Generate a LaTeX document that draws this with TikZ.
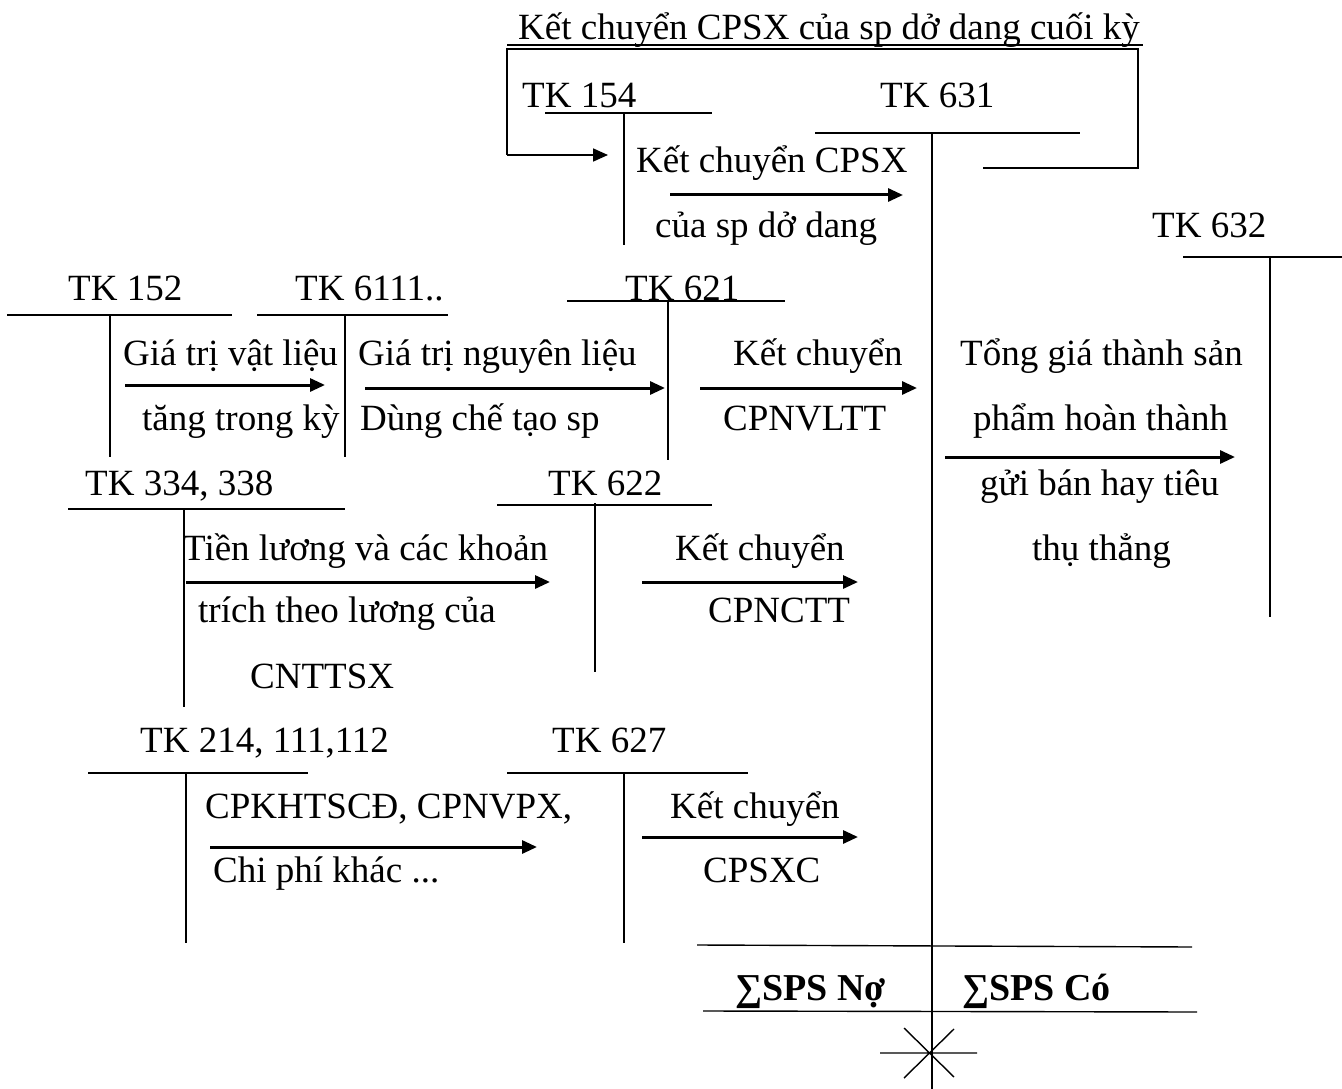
\documentclass[tikz,border=0pt]{standalone}
\usepackage{fontspec}
\setmainfont{Liberation Serif}
\usetikzlibrary{arrows.meta}
\begin{document}
\begin{tikzpicture}[x=1pt,y=-1pt,
  txt/.style={anchor=base west,inner sep=0pt,font=\fontsize{37}{43}\selectfont},
  btxt/.style={txt,font=\fontsize{38}{43}\selectfont\bfseries},
  acct/.style={line width=1.4pt},
  flow/.style={line width=3pt,-{Triangle[length=15pt,width=13pt]}},
  frame/.style={line width=1.8pt}]
\useasboundingbox (0,0) rectangle (1342,1089);
\fill[white] (0,0) rectangle (1342,1089);

% texts
\node[txt] (top) at (518,40) {Kết chuyển CPSX của sp dở dang cuối kỳ};
\node[txt] (t154) at (522,108) {TK 154};
\node[txt] (t631) at (880,108) {TK 631};
\node[txt] (a1u) at (636,172) {Kết chuyển CPSX};
\node[txt] (a1d) at (655,237) {của sp dở dang};
\node[txt] (t632) at (1152,237) {TK 632};
\node[txt] (t152) at (68,300) {TK 152};
\node[txt] (t6111) at (295,300) {TK 6111..};
\node[txt] (t621) at (625,300) {TK 621};
\node[txt] (a2u) at (123,365) {Giá trị vật liệu};
\node[txt] (a2d) at (142,430) {tăng trong kỳ};
\node[txt] (a3u) at (358,365) {Giá trị nguyên liệu};
\node[txt] (a3d) at (360,430) {Dùng chế tạo sp};
\node[txt] (a4u) at (733,365) {Kết chuyển};
\node[txt] (a4d) at (723,430) {CPNVLTT};
\node[txt] (a5u1) at (960,365) {Tổng giá thành sản};
\node[txt] (a5u2) at (973,430) {phẩm hoàn thành};
\node[txt] (a5d1) at (980,495) {gửi bán hay tiêu};
\node[txt] (a5d2) at (1032,560) {thụ thẳng};
\node[txt] (t334) at (85,495) {TK 334, 338};
\node[txt] (t622) at (548,495) {TK 622};
\node[txt] (a6u) at (183,560) {Tiền lương và các khoản};
\node[txt] (a6d1) at (198,622) {trích theo lương của};
\node[txt] (a6d2) at (250,688) {CNTTSX};
\node[txt] (a7u) at (675,560) {Kết chuyển};
\node[txt] (a7d) at (708,622) {CPNCTT};
\node[txt] (t214) at (140,752) {TK 214, 111,112};
\node[txt] (t627) at (552,752) {TK 627};
\node[txt] (a8u) at (205,818) {CPKHTSCĐ, CPNVPX,};
\node[txt] (a8d) at (213,882) {Chi phí khác ...};
\node[txt] (a9u) at (670,818) {Kết chuyển};
\node[txt] (a9d) at (703,882) {CPSXC};
\node[btxt] (sno) at (735,1000) {∑SPS Nợ};
\node[btxt] (sco) at (962,1000) {∑SPS Có};

% T accounts
\draw[acct] (545,113) -- (712,113) (624,113) -- (624,245);
\draw[acct] (815,133) -- (1080,133) (932,133) -- (932,1089);
\draw[acct] (1183,257) -- (1342,257) (1270,257) -- (1270,617);
\draw[acct] (7,315) -- (232,315) (110,315) -- (110,457);
\draw[acct] (257,315) -- (448,315) (345,315) -- (345,457);
\draw[acct] (567,301) -- (785,301) (668,301) -- (668,460);
\draw[acct] (68,509) -- (345,509) (184,509) -- (184,707);
\draw[acct] (497,505) -- (712,505) (595,503) -- (595,672);
\draw[acct] (88,773) -- (308,773) (186,773) -- (186,943);
\draw[acct] (507,773) -- (748,773) (624,773) -- (624,943);
\draw[acct] (697,945) -- (1192,947);
\draw[acct] (703,1011) -- (1197,1012);
% closing cross
\coordinate (xc) at (930,1053);
\draw[acct] ([xshift=-50pt]xc) -- ([xshift=47pt]xc)
  ([shift={(-26pt,25pt)}]xc) -- ([shift={(24pt,-24pt)}]xc)
  ([shift={(-26pt,-25pt)}]xc) -- ([shift={(24pt,24pt)}]xc);

% flow arrows
\coordinate (f1s) at (670,195); \coordinate (f1e) at (903,195);
\coordinate (f2s) at (125,385); \coordinate (f2e) at (325,385);
\coordinate (f3s) at (365,388); \coordinate (f3e) at (665,388);
\coordinate (f4s) at (700,388); \coordinate (f4e) at (917,388);
\coordinate (f5s) at (945,457); \coordinate (f5e) at (1235,457);
\coordinate (f6s) at (186,582); \coordinate (f6e) at (550,582);
\coordinate (f7s) at (642,582); \coordinate (f7e) at (858,582);
\coordinate (f8s) at (210,847); \coordinate (f8e) at (537,847);
\coordinate (f9s) at (642,837); \coordinate (f9e) at (858,837);
\foreach \i in {1,...,9} \draw[flow] (f\i s) -- (f\i e);

% transfer of ending WIP
\draw[acct] (507,45) -- (1143,45);
\coordinate (r0) at (983,168);
\coordinate (r1) at (1138,168);
\coordinate (r2) at (1138,49);
\coordinate (r3) at (507,49);
\coordinate (r4) at (507,155);
\coordinate (r5) at (608,155);
\draw[frame] (r0) -- (r1) -- (r2) -- (r3) -- (r4);
\draw[frame,-{Triangle[length=15pt,width=13pt]}] (r4) -- (r5);
\end{tikzpicture}
\end{document}
